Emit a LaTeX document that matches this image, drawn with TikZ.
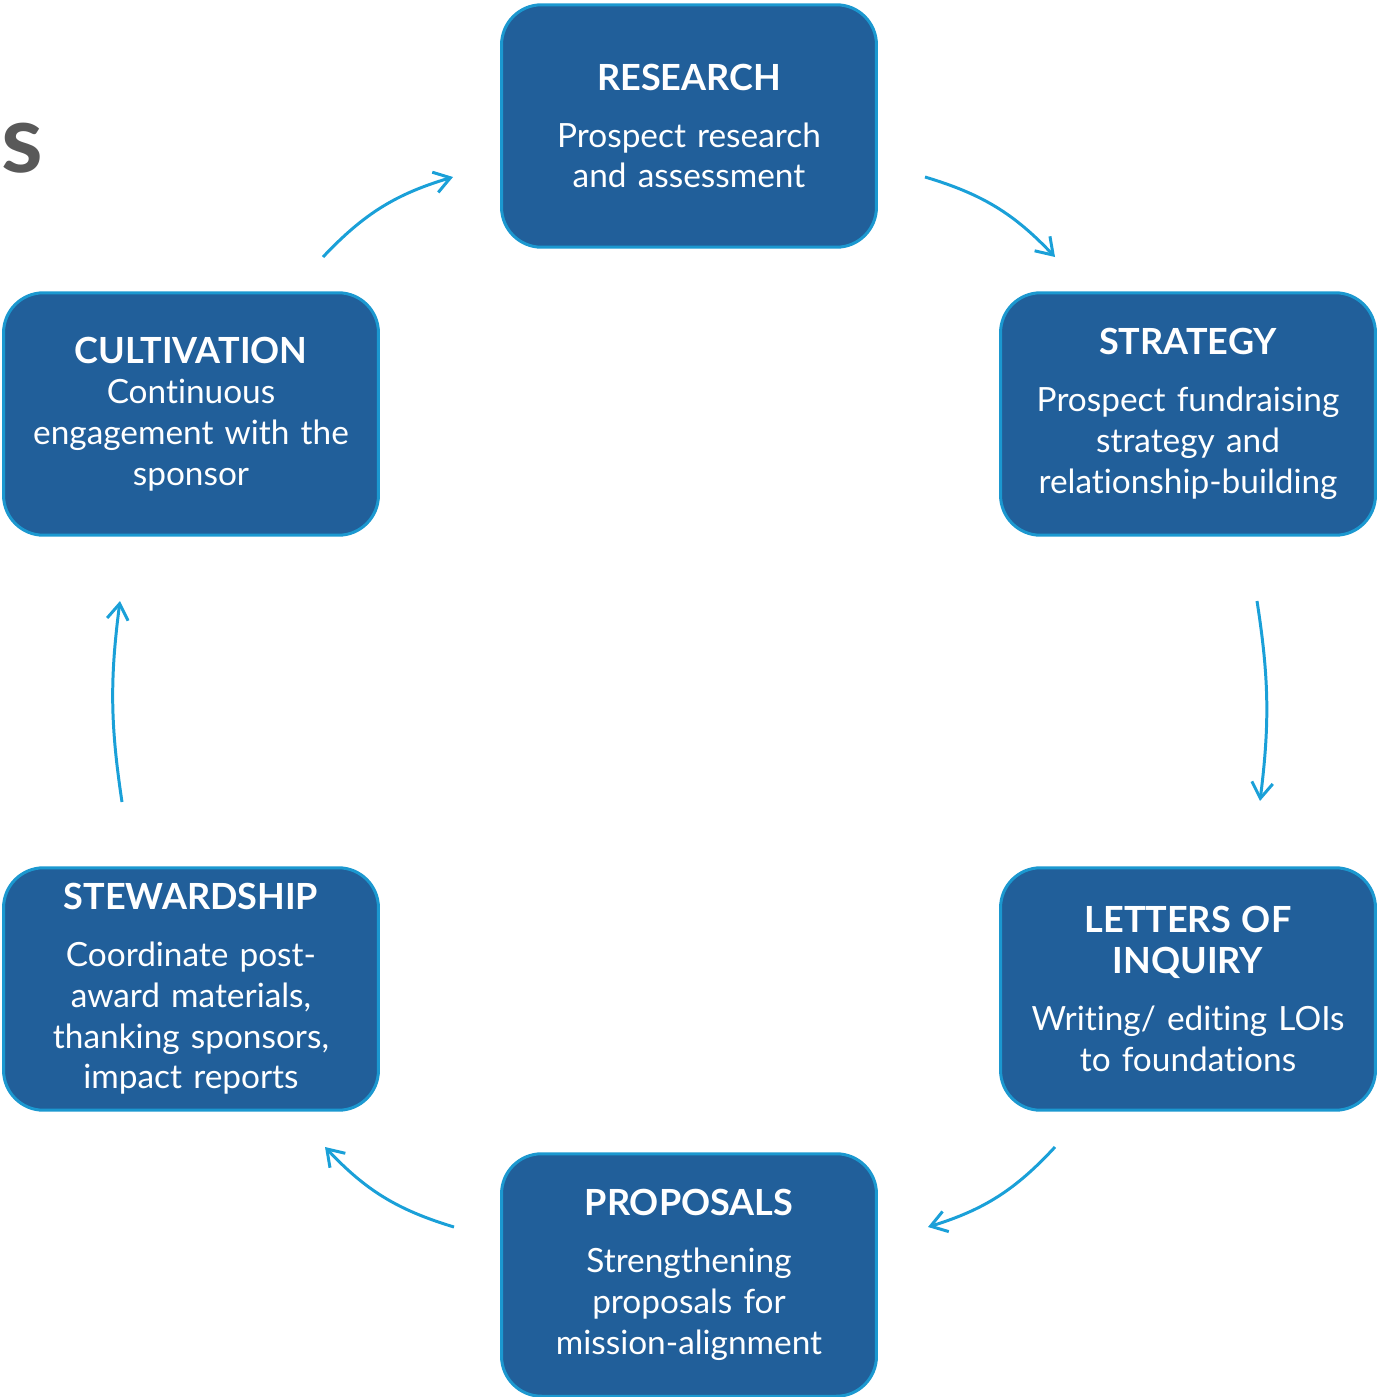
\documentclass[tikz,border=0pt]{standalone}
\usepackage{fontspec}
\setmainfont[Ligatures=NoCommon, RawFeature={-liga;-dlig}]{Lato}
\usetikzlibrary{arrows.meta}
\definecolor{boxblue}{HTML}{215F9A}
\definecolor{boxedge}{HTML}{1B98D0}
\definecolor{arrowblue}{HTML}{1AA0D8}
\definecolor{titlegray}{HTML}{595959}
\newcommand{\steptitle}[1]{{\fontsize{20.5}{23.2}\selectfont\bfseries #1}}
\begin{document}
\begin{tikzpicture}[x=0.02cm, y=-0.02cm,
roundednode/.style={rectangle, rounded corners=0.8cm, draw=boxedge, fill=boxblue, line width=1.7pt, minimum width=7.5cm, minimum height=4.85cm, text width=7cm, align=center, text=white, font=\fontsize{19}{23.2}\selectfont},
cyclearrow/.style={-{Straight Barb[length=9pt, width=12pt]}, draw=arrowblue, line width=1.7pt}]

\useasboundingbox (0, 0) rectangle (1380, 1397);

\node[anchor=base east, inner sep=0pt, text=titlegray, font=\fontsize{54}{60}\selectfont\bfseries](heading) at (44, 172){es};

\node[roundednode](research) at (689, 126){\steptitle{RESEARCH}\\[0.32cm] Prospect research\\and assessment};
\node[roundednode](strategy) at (1188, 414){\steptitle{STRATEGY}\\[0.32cm] Prospect fundraising\\strategy and\\relationship-building};
\node[roundednode](letters) at (1188, 989){\steptitle{LETTERS OF}\\\steptitle{INQUIRY}\\[0.32cm] Writing/ editing LOIs\\to foundations};
\node[roundednode](proposals) at (689, 1275){\steptitle{PROPOSALS}\\[0.32cm] Strengthening\\proposals for\\mission-alignment};
\node[roundednode](stewardship) at (191, 989){\steptitle{STEWARDSHIP}\\[0.32cm] Coordinate post-\\award materials,\\thanking sponsors,\\impact reports};
\node[roundednode](cultivation) at (191, 414){\steptitle{CULTIVATION}\\Continuous\\engagement with the\\sponsor};

\coordinate (cultout) at (323, 257);
\coordinate (researchin) at (453, 177);
\coordinate (researchout) at (925, 177);
\coordinate (strategyin) at (1055, 257);
\coordinate (strategyout) at (1257, 601);
\coordinate (lettersin) at (1260, 801);
\coordinate (lettersout) at (1055, 1147);
\coordinate (proposalsin) at (928, 1227);
\coordinate (proposalsout) at (454, 1227);
\coordinate (stewardin) at (325, 1147);
\coordinate (stewardout) at (122, 802);
\coordinate (cultin) at (120, 601);

\draw[cyclearrow](cultout) to[bend left=15] (researchin);
\draw[cyclearrow](researchout) to[bend left=15] (strategyin);
\draw[cyclearrow](strategyout) to[bend left=8] (lettersin);
\draw[cyclearrow](lettersout) to[bend left=15] (proposalsin);
\draw[cyclearrow](proposalsout) to[bend left=15] (stewardin);
\draw[cyclearrow](stewardout) to[bend left=8] (cultin);

\end{tikzpicture}
\end{document}
